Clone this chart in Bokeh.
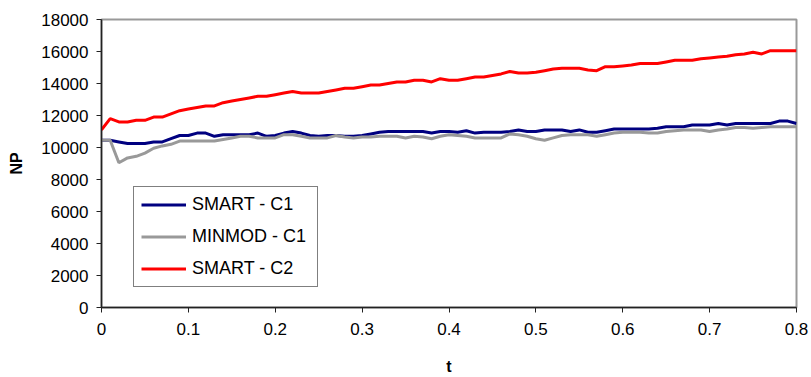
from bokeh.plotting import figure
from bokeh.models import Range1d, FixedTicker, Legend, LegendItem
from bokeh.embed import file_html
from bokeh.resources import INLINE

t = [i / 100 for i in range(81)]

smart_c1 = [10450, 10450, 10350, 10250, 10250, 10250, 10350, 10350, 10550, 10750,
            10750, 10900, 10900, 10700, 10800, 10800, 10800, 10800, 10900, 10700,
            10750, 10900, 11000, 10900, 10750, 10700, 10750, 10750, 10700, 10700,
            10750, 10850, 10950, 11000, 11000, 11000, 11000, 11000, 10900, 11000,
            11000, 10950, 11050, 10900, 10950, 10950, 10950, 11000, 11100, 11000,
            11000, 11100, 11100, 11100, 11000, 11100, 10950, 10950, 11050, 11150,
            11150, 11150, 11150, 11150, 11200, 11300, 11300, 11300, 11400, 11400,
            11400, 11500, 11400, 11500, 11500, 11500, 11500, 11500, 11650, 11650,
            11500]

minmod_c1 = [10450, 10450, 9050, 9350, 9450, 9650, 9950, 10100, 10200, 10400,
             10400, 10400, 10400, 10400, 10500, 10600, 10700, 10700, 10600, 10600,
             10600, 10800, 10800, 10700, 10600, 10600, 10600, 10750, 10650, 10600,
             10650, 10650, 10700, 10700, 10700, 10600, 10700, 10650, 10550, 10700,
             10800, 10750, 10700, 10600, 10600, 10600, 10600, 10850, 10800, 10700,
             10550, 10450, 10600, 10750, 10800, 10800, 10800, 10700, 10800, 10900,
             10950, 10950, 10950, 10900, 10900, 11000, 11050, 11100, 11100, 11100,
             11000, 11100, 11150, 11250, 11250, 11200, 11250, 11300, 11300, 11300,
             11300]

smart_c2 = [11100, 11800, 11600, 11600, 11700, 11700, 11900, 11900, 12100, 12300,
            12400, 12500, 12600, 12600, 12800, 12900, 13000, 13100, 13200, 13200,
            13300, 13400, 13500, 13400, 13400, 13400, 13500, 13600, 13700, 13700,
            13800, 13900, 13900, 14000, 14100, 14100, 14200, 14200, 14100, 14300,
            14200, 14200, 14300, 14400, 14400, 14500, 14600, 14750, 14650, 14650,
            14700, 14800, 14900, 14950, 14950, 14950, 14850, 14800, 15050, 15050,
            15100, 15150, 15250, 15250, 15250, 15350, 15450, 15450, 15450, 15550,
            15600, 15650, 15700, 15800, 15850, 15950, 15850, 16050, 16050, 16050,
            16050]

series_names = ["SMART - C1", "MINMOD - C1", "SMART - C2"]
series_colors = ["#000080", "#999999", "#ff0000"]

x_ticks = [0, 0.1, 0.2, 0.3, 0.4, 0.5, 0.6, 0.7, 0.8]
x_tick_labels = ["0", "0.1", "0.2", "0.3", "0.4", "0.5", "0.6", "0.7", "0.8"]
y_ticks = [0, 2000, 4000, 6000, 8000, 10000, 12000, 14000, 16000, 18000]

FONT = "Liberation Sans"

p = figure(width=811, height=377, output_backend="svg", toolbar_location=None,
           x_range=Range1d(0, 0.8), y_range=Range1d(0, 18000),
           min_border_left=101, min_border_right=15, min_border_top=19,
           min_border_bottom=68)

p.background_fill_color = "white"
p.border_fill_color = "white"
p.outline_line_color = "#999999"
p.outline_line_width = 2
p.xgrid.grid_line_color = None
p.ygrid.grid_line_color = None

renderers = []
for ys, c in zip([smart_c1, minmod_c1, smart_c2], series_colors):
    r = p.line(t, ys, line_color=c, line_width=3)
    renderers.append(r)

for ax in (p.xaxis[0], p.yaxis[0]):
    ax.axis_line_color = "#222222"
    ax.axis_line_width = 1.5
    ax.major_tick_line_color = "#222222"
    ax.major_tick_in = 0
    ax.major_tick_out = 5
    ax.minor_tick_line_color = None
    ax.major_label_text_font = FONT
    ax.major_label_text_font_size = "17px"
    ax.major_label_text_color = "black"
    ax.axis_label_text_font = FONT
    ax.axis_label_text_font_style = "bold"
    ax.axis_label_text_font_size = "16px"
    ax.axis_label_text_color = "black"

p.xaxis.ticker = FixedTicker(ticks=x_ticks)
p.xaxis.major_label_overrides = {v: s for v, s in zip(x_ticks, x_tick_labels)}
p.xaxis.axis_label = "t"
p.xaxis.major_label_standoff = 10
p.xaxis.axis_label_standoff = 20

p.yaxis.ticker = FixedTicker(ticks=y_ticks)
p.yaxis.axis_label = "NP"
p.yaxis.major_label_standoff = 8
p.yaxis.axis_label_standoff = 13

legend = Legend(items=[LegendItem(label=n, renderers=[r]) for n, r in zip(series_names, renderers)],
                location=(32, 20))
legend.border_line_color = "black"
legend.border_line_width = 1
legend.background_fill_color = "white"
legend.background_fill_alpha = 1
legend.label_text_font = FONT
legend.label_text_font_size = "18px"
legend.label_text_color = "black"
legend.glyph_width = 45
legend.glyph_height = 21
legend.label_height = 21
legend.label_width = 118
legend.label_standoff = 6
legend.spacing = 11
legend.padding = 7
legend.margin = 0
p.add_layout(legend, "center")

open("out.html", "w").write(file_html(p, INLINE))
